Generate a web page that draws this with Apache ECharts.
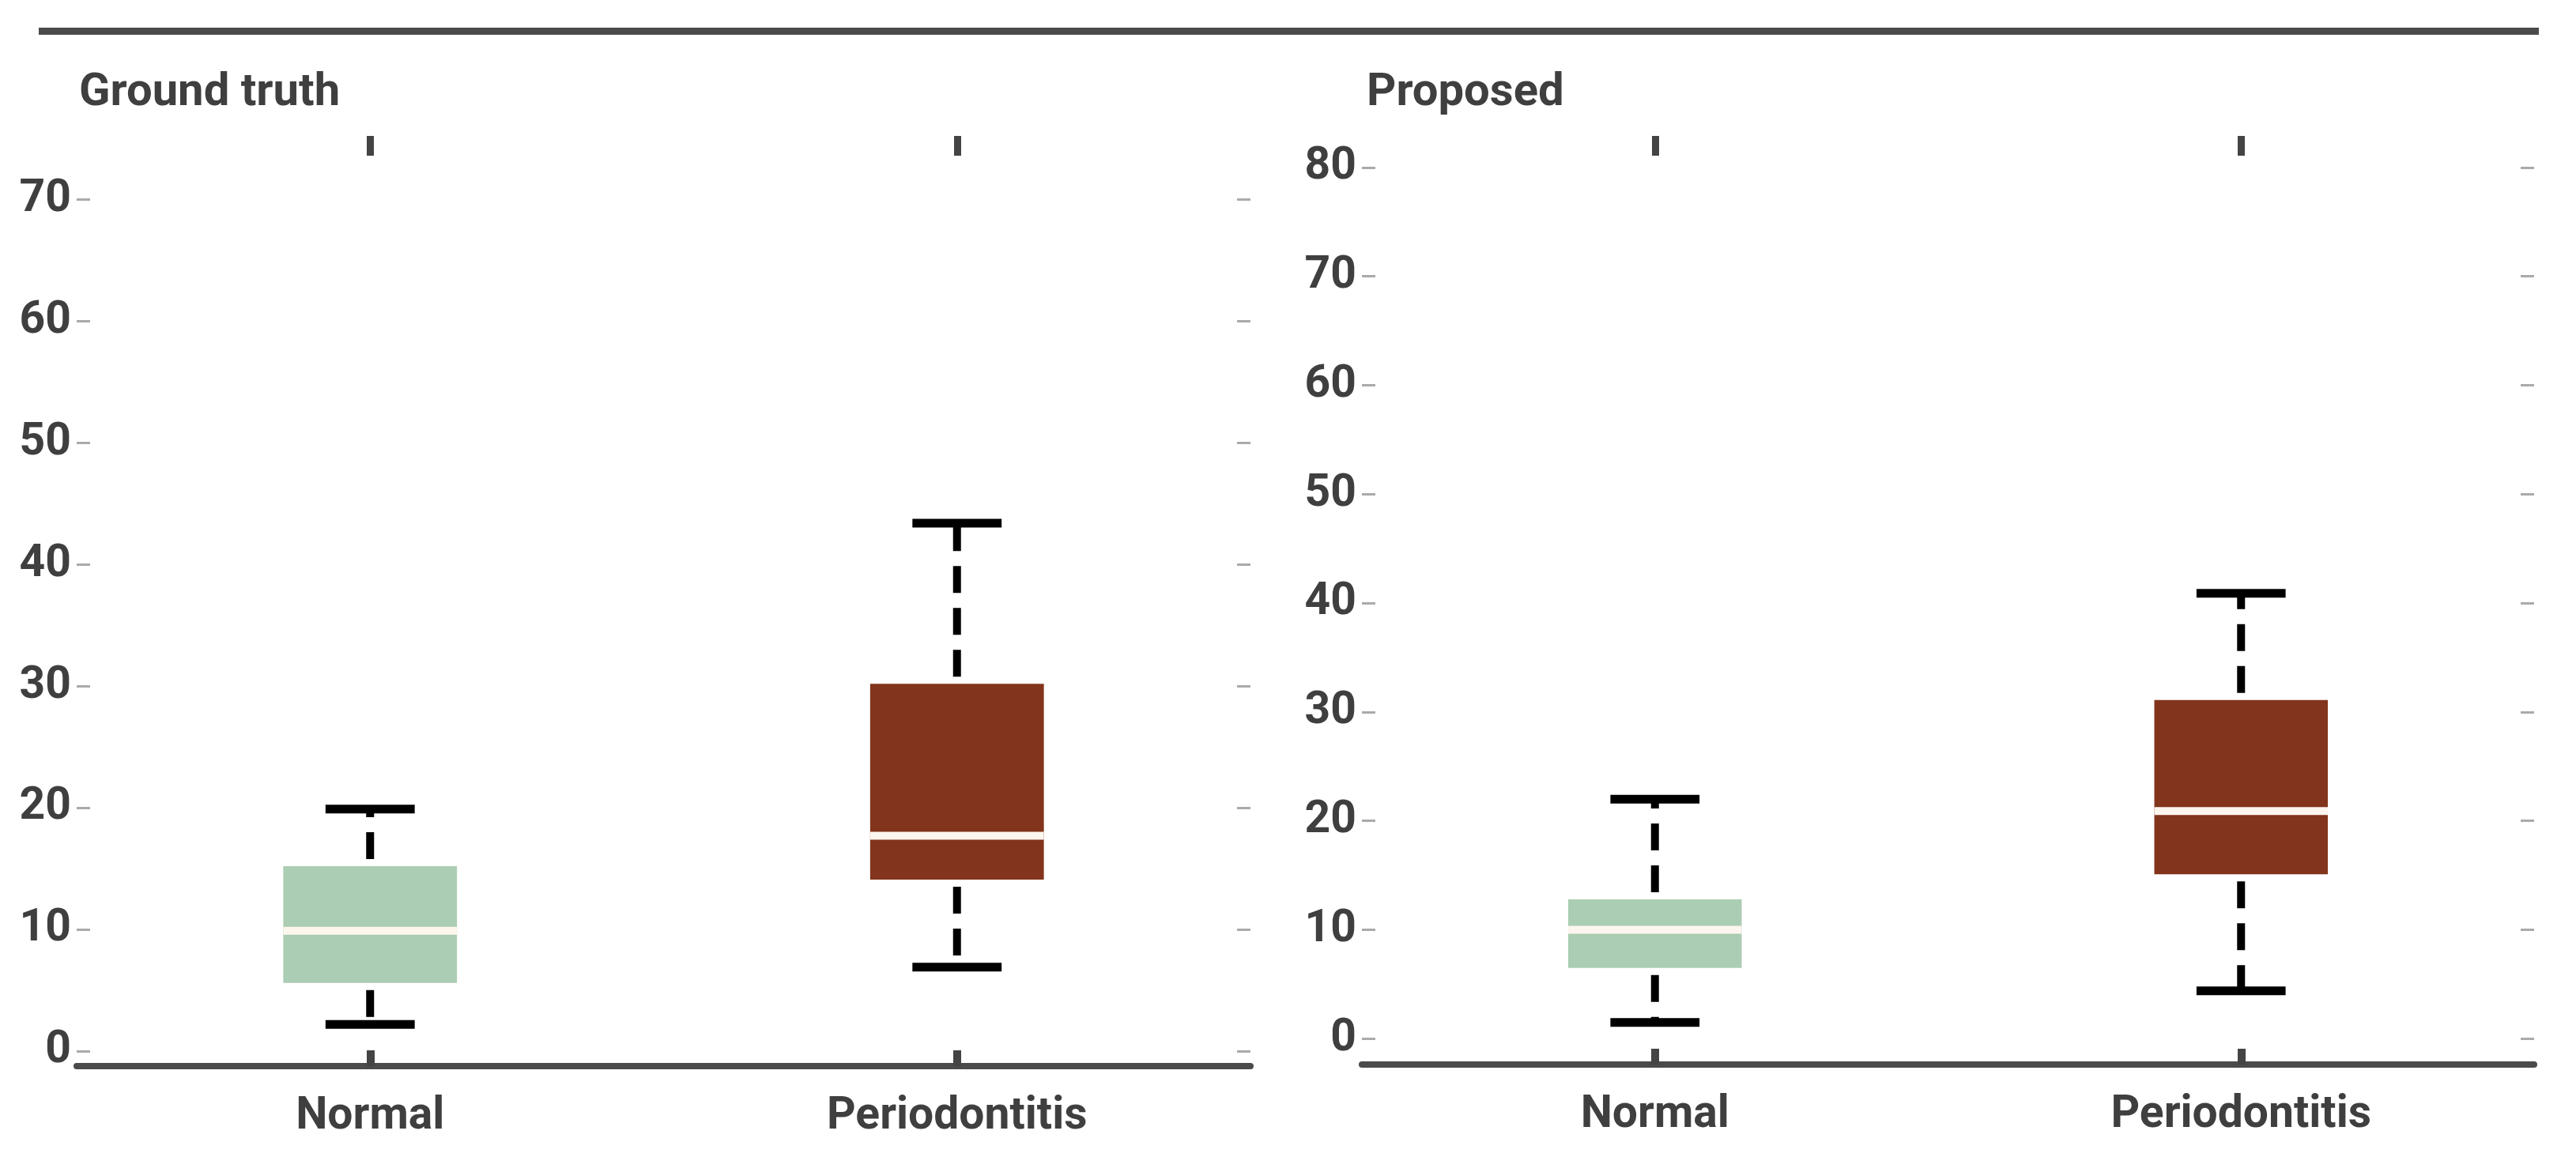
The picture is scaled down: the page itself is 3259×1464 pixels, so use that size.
<!DOCTYPE html>
<html>
<head>
<meta charset="utf-8">
<script src="https://cdn.jsdelivr.net/npm/echarts@6/dist/echarts.min.js"></script>
<style>
html,body{margin:0;padding:0;background:#fff;}
#chart{width:3259px;height:1464px;}
</style>
</head>
<body>
<div id="chart"></div>
<script>
// ---- data ----
const categories = ['Normal', 'Periodontitis'];
const panelTitles = ['Ground truth', 'Proposed'];
// [lower whisker, Q1, median, Q3, upper whisker]
const groundTruthNormal = [2.2, 5.6, 9.9, 15.2, 19.9];
const groundTruthPeriodontitis = [6.9, 14.1, 17.7, 30.2, 43.4];
const proposedNormal = [1.5, 6.5, 10.0, 12.8, 22.0];
const proposedPeriodontitis = [4.4, 15.1, 20.9, 31.1, 40.9];
const groundTruthTicks = [0, 10, 20, 30, 40, 50, 60, 70];
const proposedTicks = [0, 10, 20, 30, 40, 50, 60, 70, 80];

const boxColors = ['#abcdb3', '#82341c'];
const textColor = '#3f3f3f';
const fontFamily = 'Roboto';

const chart = echarts.init(document.getElementById('chart'), null, {renderer: 'canvas'});

function renderBox(params, api) {
  const ci = api.value(0);
  const lo = api.value(1), q1 = api.value(2), med = api.value(3), q3 = api.value(4), hi = api.value(5);
  const band = api.size([1, 0])[0];
  const boxW = band * 0.296;
  const capW = band * 0.152;
  const pLo = api.coord([ci, lo]);
  const pQ1 = api.coord([ci, q1]);
  const pMed = api.coord([ci, med]);
  const pQ3 = api.coord([ci, q3]);
  const pHi = api.coord([ci, hi]);
  const cx = pMed[0];
  const dashStyle = {stroke: '#000', lineWidth: 10, lineDash: [34, 19], lineDashOffset: 44, fill: null};
  return {
    type: 'group',
    children: [
      {type: 'line', shape: {x1: cx, y1: pQ3[1], x2: cx, y2: pHi[1]}, style: dashStyle},
      {type: 'line', shape: {x1: cx, y1: pQ1[1], x2: cx, y2: pLo[1]}, style: dashStyle},
      {type: 'line', shape: {x1: cx - capW / 2, y1: pHi[1], x2: cx + capW / 2, y2: pHi[1]}, style: {stroke: '#000', lineWidth: 11}},
      {type: 'line', shape: {x1: cx - capW / 2, y1: pLo[1], x2: cx + capW / 2, y2: pLo[1]}, style: {stroke: '#000', lineWidth: 11}},
      {type: 'rect', shape: {x: cx - boxW / 2, y: pQ3[1], width: boxW, height: pQ1[1] - pQ3[1]}, style: {fill: boxColors[ci]}},
      {type: 'rect', shape: {x: cx - boxW / 2, y: pMed[1] - 5, width: boxW, height: 10}, style: {fill: '#fdf6ef'}}
    ]
  };
}

const grids = [
  {left: 97, top: 172, width: 1485, height: 1177},
  {left: 1723, top: 172, width: 1483, height: 1175}
];
const yRanges = [[-1.235, 75.24], [-2.37, 82.89]];
const yTicks = [groundTruthTicks, proposedTicks];

const xAxes = [], yAxes = [];
for (let g = 0; g < 2; g++) {
  xAxes.push({
    type: 'category', gridIndex: g, data: categories, position: 'bottom', boundaryGap: true,
    axisLine: {show: true, onZero: false, lineStyle: {color: '#4b4b4b', width: 8}},
    axisTick: {show: true, inside: true, alignWithLabel: true, length: 20, lineStyle: {color: '#444', width: 10}},
    axisLabel: {show: true, margin: 36, color: textColor, fontFamily: fontFamily, fontWeight: 'bold', fontSize: 57},
    splitLine: {show: false}
  });
  xAxes.push({
    type: 'category', gridIndex: g, data: categories, position: 'top', boundaryGap: true,
    axisLine: {show: false, onZero: false},
    axisTick: {show: true, inside: true, alignWithLabel: true, length: 25, lineStyle: {color: '#444', width: 9}},
    axisLabel: {show: false},
    splitLine: {show: false}
  });
  yAxes.push({
    type: 'value', gridIndex: g, position: 'left', min: yRanges[g][0], max: yRanges[g][1],
    axisLine: {show: false, onZero: false},
    axisTick: {show: true, inside: true, length: 17, customValues: yTicks[g], lineStyle: {color: '#aaaaaa', width: 3}},
    axisLabel: {show: true, margin: 7, customValues: yTicks[g], color: textColor, fontFamily: fontFamily, fontWeight: 'bold', fontSize: 57},
    splitLine: {show: false}
  });
  yAxes.push({
    type: 'value', gridIndex: g, position: 'right', min: yRanges[g][0], max: yRanges[g][1],
    axisLine: {show: false, onZero: false},
    axisTick: {show: true, inside: true, length: 17, customValues: yTicks[g], lineStyle: {color: '#aaaaaa', width: 3}},
    axisLabel: {show: false},
    splitLine: {show: false}
  });
}

const panelData = [
  [[0].concat(groundTruthNormal), [1].concat(groundTruthPeriodontitis)],
  [[0].concat(proposedNormal), [1].concat(proposedPeriodontitis)]
];

const series = panelData.map((d, g) => ({
  type: 'custom',
  xAxisIndex: g * 2,
  yAxisIndex: g * 2,
  renderItem: renderBox,
  encode: {x: 0, y: [1, 2, 3, 4, 5]},
  data: d,
  silent: true,
  animation: false
}));

chart.setOption({
  animation: false,
  backgroundColor: '#ffffff',
  grid: grids,
  xAxis: xAxes,
  yAxis: yAxes,
  series: series,
  graphic: [
    {type: 'rect', shape: {x: 49, y: 35, width: 3163, height: 9}, style: {fill: '#4b4b4b'}},
    {type: 'text', x: 100, y: 118, style: {text: panelTitles[0], fill: textColor, font: 'bold 58px ' + fontFamily, verticalAlign: 'middle', align: 'left'}},
    {type: 'text', x: 1729, y: 118, style: {text: panelTitles[1], fill: textColor, font: 'bold 58px ' + fontFamily, verticalAlign: 'middle', align: 'left'}}
  ]
});
</script>
</body>
</html>
